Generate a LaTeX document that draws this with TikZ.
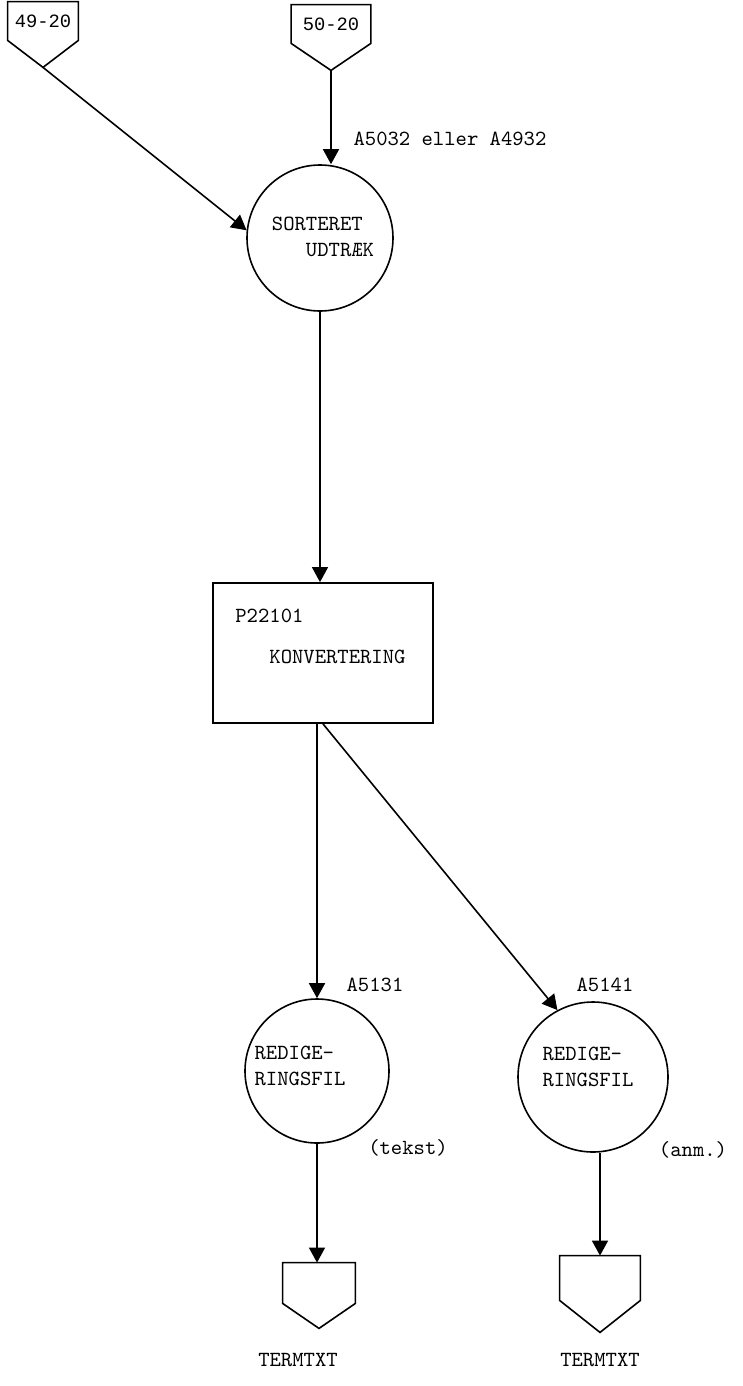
\documentclass[tikz,border=0pt]{standalone}
\usepackage{fontspec}
\newfontfamily\gothic{Liberation Mono}
\usepackage{tikz}
\usetikzlibrary{calc, positioning, arrows.meta, shapes.geometric}

\begin{document}
\begin{tikzpicture}[x=0.5pt, y=-0.5pt,
  cir/.style={circle, draw, line width=0.8pt, inner sep=0pt},
  kas/.style={rectangle, draw, line width=0.9pt,
    minimum width=110pt, minimum height=70pt, inner sep=0pt},
  op/.style={rectangle, minimum width=35pt, minimum height=19pt,
    inner sep=0pt, font=\gothic\fontsize{9.4}{13}\selectfont},
  txt/.style={inner sep=0pt, align=left,
    font=\ttfamily\fontsize{10.8}{13}\selectfont},
  lin/.style={line width=0.8pt, line join=miter},
  fa/.style={-{Triangle[length=7.5pt, width=8pt]}, line width=0.8pt}
]
\useasboundingbox (0,0) rectangle (743,1386);

%% ── Forbindelser (top) ───────────────────────────────────────────────
\node[op] (c49) at (43,21) {49-20};
\draw[lin] (c49.north west) -- (c49.north east) -- (c49.south east)
  -- ($(c49.south)+(0,27)$) coordinate (c49tip) -- (c49.south west) -- cycle;

\node[op, minimum width=39.5pt] (c50) at (331,24) {50-20};
\draw[lin] (c50.north west) -- (c50.north east) -- (c50.south east)
  -- ($(c50.south)+(0,27)$) coordinate (c50tip) -- (c50.south west) -- cycle;

%% ── Sorteret udtraek ─────────────────────────────────────────────────
\node[cir, minimum size=73pt] (sort) at (320,238) {};
\node[txt] (sorttxt) at (323,237) {SORTERET\\\phantom{SOR}UDTRÆK};
\node[txt] (sortlbl) at (450,139) {A5032 eller A4932};

\draw[fa] (c49tip) -- (sort.174);
\draw[fa] (c50tip) -- (c50tip |- sort.north);

%% ── Konvertering ─────────────────────────────────────────────────────
\node[kas] (konv) at (323,653) {};
\node[txt, anchor=west] (konvtxt) at (235,636)
  {P22101\\[7.5pt]\phantom{P22}KONVERTERING};

\draw[fa] (sort.south) -- (sort.south |- konv.north);

%% ── Redigeringsfiler ─────────────────────────────────────────────────
\node[cir, minimum size=72pt] (red1) at (317,1071) {};
\node[txt] (red1txt) at (300,1066) {REDIGE-\\RINGSFIL};
\node[txt] (red1lbl) at (375,985) {A5131};
\node[txt] (red1typ) at (408,1148) {(tekst)};

\node[cir, minimum size=75pt] (red2) at (593,1077) {};
\node[txt] (red2txt) at (588,1067) {REDIGE-\\RINGSFIL};
\node[txt] (red2lbl) at (605,985) {A5141};
\node[txt] (red2typ) at (693,1150) {(anm.)};

\draw[fa] (konv.south -| red1.north) -- (red1.north);
\draw[fa] (konv.south) -- (red2.118);

%% ── Terminaler (bund) ────────────────────────────────────────────────
\node[op, minimum width=36pt, minimum height=20pt] (term1) at (319,1283) {};
\draw[lin] (term1.north west) -- (term1.north east) -- (term1.south east)
  -- ($(term1.south)+(0,25)$) coordinate (term1tip) -- (term1.south west) -- cycle;
\node[txt] (term1txt) at (298,1360) {TERMTXT};

\node[op, minimum width=40pt, minimum height=22pt] (term2) at (600,1278) {};
\draw[lin] (term2.north west) -- (term2.north east) -- (term2.south east)
  -- ($(term2.south)+(0,32)$) coordinate (term2tip) -- (term2.south west) -- cycle;
\node[txt] (term2txt) at (600,1360) {TERMTXT};

\draw[fa] (red1.south) -- (red1.south |- term1.north);
\draw[fa] (term2.north |- red2.south) -- (term2.north);

\end{tikzpicture}
\end{document}
